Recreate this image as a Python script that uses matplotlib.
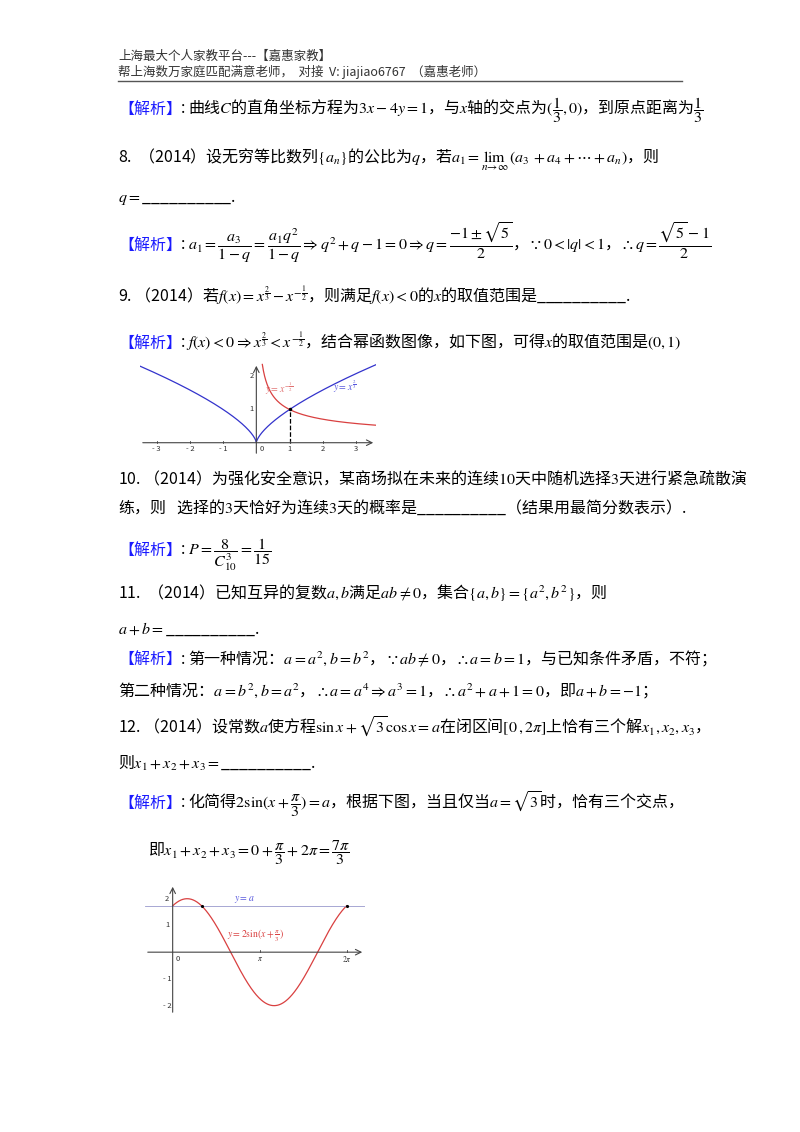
import numpy as np
import matplotlib.pyplot as plt

plt.rcParams['font.family'] = ['Noto Sans CJK SC', 'DejaVu Sans']
plt.rcParams['mathtext.fontset'] = 'stix'

W, H = 800, 1132
fig = plt.figure(figsize=(8, 11.32), dpi=100)
fig.patch.set_facecolor('white')

def put(x, y, s, size=11.5, color='black', **kw):
    fig.text(x / W, 1 - y / H, s, fontsize=size, color=color, va='baseline', **kw)

def jiexi(x, y, s):
    put(x, y, '【解析】', color='#1a1aff')
    put(x + 62, y, ': ' + s)

BL = '__________'

# header
put(118, 60, '上海最大个人家教平台---【嘉惠家教】', size=9, color='#333333')
put(118, 76, '帮上海数万家庭匹配满意老师，  对接  V: jiajiao6767  （嘉惠老师）', size=9, color='#333333')
fig.add_artist(plt.Line2D([118 / W, 682 / W], [1 - 81 / H, 1 - 81 / H], color='#555555', lw=1))

jiexi(118, 114, r'曲线$C$的直角坐标方程为$3x-4y=1$，与$x$轴的交点为$(\dfrac{1}{3},0)$，到原点距离为$\dfrac{1}{3}$')
put(118, 162, r'8.  （2014）设无穷等比数列$\{a_n\}$的公比为$q$，若$a_1=\lim_{n\to\infty}\,(a_3+a_4+\cdots+a_n)$，则')
put(118, 202, r'$q=$' + BL + '.')
jiexi(118, 250, r'$a_1=\dfrac{a_3}{1-q}=\dfrac{a_1q^2}{1-q}\Rightarrow q^2+q-1=0\Rightarrow q=\dfrac{-1\pm\sqrt{5}}{2}$，$\because 0<|q|<1$，$\therefore q=\dfrac{\sqrt{5}-1}{2}$')
put(118, 302, r'9. （2014）若$f(x)=x^{\frac{2}{3}}-x^{-\frac{1}{2}}$，则满足$f(x)<0$的$x$的取值范围是' + BL + '.')
jiexi(118, 348, r'$f(x)<0\Rightarrow x^{\frac{2}{3}}<x^{-\frac{1}{2}}$，结合幂函数图像，如下图，可得$x$的取值范围是$(0,1)$')

put(118, 484, r'10. （2014）为强化安全意识，某商场拟在未来的连续$10$天中随机选择$3$天进行紧急疏散演')
put(118, 513, r'练，则   选择的$3$天恰好为连续$3$天的概率是' + BL + '（结果用最简分数表示）.')
jiexi(118, 555, r'$P=\dfrac{8}{C_{10}^{3}}=\dfrac{1}{15}$')
put(118, 598, r'11.  （2014）已知互异的复数$a,b$满足$ab\neq 0$，集合$\{a,b\}=\{a^2,b^2\}$，则')
put(118, 634, r'$a+b=$' + BL + '.')
jiexi(118, 664, r'第一种情况：$a=a^2,b=b^2$，$\because ab\neq 0$，$\therefore a=b=1$，与已知条件矛盾，不符；')
put(118, 696, r'第二种情况：$a=b^2,b=a^2$，$\therefore a=a^4\Rightarrow a^3=1$，$\therefore a^2+a+1=0$，即$a+b=-1$；')
put(118, 733, r'12. （2014）设常数$a$使方程$\sin x+\sqrt{3}\cos x=a$在闭区间$[0\,,2\pi]$上恰有三个解$x_1,x_2,x_3$，')
put(118, 768, r'则$x_1+x_2+x_3=$' + BL + '.')
jiexi(118, 808, r'化简得$2\sin(x+\dfrac{\pi}{3})=a$，根据下图，当且仅当$a=\sqrt{3}$时，恰有三个交点，')
put(148, 856, r'即$x_1+x_2+x_3=0+\dfrac{\pi}{3}+2\pi=\dfrac{7\pi}{3}$')

def axes_px(x0, y0, x1, y1):
    ax = fig.add_axes([x0 / W, 1 - y1 / H, (x1 - x0) / W, (y1 - y0) / H])
    for s in ax.spines.values():
        s.set_visible(False)
    return ax

def draw_axes(ax, xl, yl):
    ax.set_xlim(*xl)
    ax.set_ylim(*yl)
    ax.annotate('', xy=(xl[1], 0), xytext=(xl[0], 0),
                arrowprops=dict(arrowstyle='->', lw=0.8, color='#444444'))
    ax.annotate('', xy=(0, yl[1]), xytext=(0, yl[0]),
                arrowprops=dict(arrowstyle='->', lw=0.8, color='#444444'))
    ax.set_xticks([])
    ax.set_yticks([])

# chart 1: power functions
ax1 = axes_px(140, 363, 376, 456)
draw_axes(ax1, (-3.5, 3.6), (-0.4, 2.4))
xs = np.linspace(-3.5, 3.6, 600)
ax1.plot(xs, np.abs(xs) ** (2 / 3), color='#3333cc', lw=0.9)
xp = np.linspace(0.18, 3.6, 400)
ax1.plot(xp, xp ** -0.5, color='#d94040', lw=0.9)
ax1.plot([1, 1], [0, 1], 'k--', lw=0.9)
ax1.plot([1], [1], 'k.', ms=3)
tick1 = [-3, -2, -1, 1, 2, 3]
for t in tick1:
    ax1.plot([t, t], [0, 0.06], color='#444444', lw=0.6)
    ax1.text(t, -0.2, str(t) if t > 0 else '- ' + str(-t), fontsize=5.5, ha='center', va='center', color='#333333')
ax1.text(0.15, -0.2, '0', fontsize=5.5, ha='center', va='center', color='#333333')
for t in [1, 2]:
    ax1.text(-0.15, t, str(t), fontsize=5.5, ha='center', va='center', color='#333333')
ax1.text(0.25, 1.5, r'$y=x^{-\frac{1}{2}}$', fontsize=7, color='#e07070')
ax1.text(2.3, 1.55, r'$y=x^{\frac{2}{3}}$', fontsize=7, color='#5555dd')

# chart 2: 2 sin(x + pi/3)
ax2 = axes_px(145, 884, 365, 1015)
draw_axes(ax2, (-1.0, 6.95), (-2.35, 2.55))
xs2 = np.linspace(0, 2 * np.pi, 500)
ax2.plot(xs2, 2 * np.sin(xs2 + np.pi / 3), color='#d94040', lw=0.9)
ax2.axhline(np.sqrt(3), color='#9999cc', lw=0.6)
ax2.plot([np.pi / 3, 2 * np.pi], [np.sqrt(3), np.sqrt(3)], 'k.', ms=2.5)
for t, lab in [(np.pi, r'$\pi$'), (2 * np.pi, r'$2\pi$')]:
    ax2.plot([t, t], [0, 0.08], color='#444444', lw=0.6)
    ax2.text(t, -0.25, lab, fontsize=5.5, ha='center', va='center', color='#333333')
ax2.text(0.2, -0.25, '0', fontsize=5.5, ha='center', va='center', color='#333333')
for t in [2, 1, -1, -2]:
    ax2.text(-0.2, t, str(t) if t > 0 else '- ' + str(-t), fontsize=5.5, ha='center', va='center', color='#333333')
ax2.text(2.2, 1.9, r'$y=a$', fontsize=7, color='#5555dd')
ax2.text(1.95, 0.55, r'$y=2\sin(x+\frac{\pi}{3})$', fontsize=7, color='#d94040')

fig.savefig('out.png', dpi=100, facecolor='white')
